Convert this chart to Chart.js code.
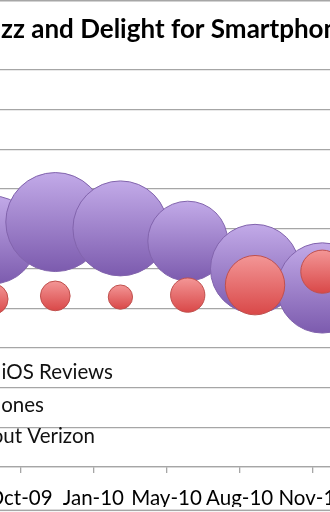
<!DOCTYPE html>
<html><head><meta charset="utf-8">
<script src="https://cdn.jsdelivr.net/npm/chart.js@4"></script>
<style>
html,body{margin:0;padding:0;background:#fff;overflow:hidden;width:330px;height:512px;}
#wrap{position:absolute;left:-116px;top:0;width:560px;height:512px;}
</style></head><body>
<div id="wrap"><canvas id="c" width="560" height="512"></canvas></div>
<script>
// ---- data ----
const chartTitle = 'Buzz and Delight for Smartphones';
const dates = [40062, 40148, 40237, 40329, 40421, 40513];          // Excel date serials
const buzzValues = [5.72, 6.17, 6.01, 5.69, 4.99, 4.51];
const buzzSizes = [79, 100, 92, 65, 81, 83];
const delightValues = [4.23, 4.31, 4.28, 4.33, 4.58, 4.92];
const delightSizes = [10, 9, 6, 12, 36, 19];
const xTickValues = [40000, 40100, 40200, 40300, 40400, 40500, 40600];
const xTickLabels = ['Jul-09', 'Oct-09', 'Jan-10', 'May-10', 'Aug-10', 'Nov-10', 'Feb-11'];
const noteTexts = ['iOS Reviews', 'hones', 'out Verizon'];

// ---- styling / layout ----
const OFFSET = 116;               // canvas is shifted left by this much
const MAX_R = 49.5;               // radius of the largest bubble
const FONT = 'Lato, "Open Sans", sans-serif';
const maxSize = Math.max(...buzzSizes, ...delightSizes);
const toR = s => MAX_R * Math.sqrt(s / maxSize);

const buzzData = dates.map((d, i) => ({x: d, y: buzzValues[i], r: toR(buzzSizes[i])}));
const delightData = dates.map((d, i) => ({x: d, y: delightValues[i], r: toR(delightSizes[i])}));

function gradient(top, bottom) {
  return (ctx) => {
    const chart = ctx.chart;
    if (!chart.chartArea || ctx.type !== 'data' || !ctx.raw) return bottom;
    const y = chart.scales.y.getPixelForValue(ctx.raw.y);
    const r = ctx.raw.r;
    const g = chart.ctx.createLinearGradient(0, y - r, 0, y + r);
    g.addColorStop(0, top);
    g.addColorStop(1, bottom);
    return g;
  };
}

const frame = {
  id: 'frame',
  beforeDraw(chart) {
    const c = chart.ctx;
    c.save();
    c.fillStyle = '#fff';
    c.fillRect(0, 0, chart.width, chart.height);
    c.restore();
  },
  afterDraw(chart) {
    const c = chart.ctx;
    c.save();
    c.strokeStyle = '#a6a6a6';
    c.lineWidth = 1.5;
    c.strokeRect(1, 0.75, chart.width - 2, 509.6);
    c.fillStyle = '#111';
    c.font = '20.5px ' + FONT;
    c.textAlign = 'right';
    c.textBaseline = 'alphabetic';
    const ends = [113, 44, 95];
    const bases = [379, 411.7, 443.3];
    noteTexts.forEach((t, i) => c.fillText(t, ends[i] + OFFSET, bases[i]));
    c.restore();
  }
};

new Chart(document.getElementById('c'), {
  type: 'bubble',
  data: {
    datasets: [
      {label: 'Delight', data: delightData, order: 1,
       backgroundColor: gradient('#f39696', '#d94848'), borderColor: '#c0504d', borderWidth: 1},
      {label: 'Buzz', data: buzzData, order: 2,
       backgroundColor: gradient('#c2aae8', '#7c5bae'), borderColor: '#8264ad', borderWidth: 1}
    ]
  },
  options: {
    responsive: false,
    animation: false,
    events: [],
    layout: {autoPadding: false, padding: {left: 63, right: 58, top: 0, bottom: 5}},
    plugins: {
      legend: {display: false},
      tooltip: {enabled: false},
      title: {display: true, text: chartTitle, color: '#000',
              font: {family: FONT, size: 26, weight: 'bold', lineHeight: 1.2},
              padding: {top: 14.4, bottom: 24.4}}
    },
    scales: {
      x: {
        type: 'linear', min: xTickValues[0], max: xTickValues[xTickValues.length - 1],
        afterBuildTicks: axis => { axis.ticks = xTickValues.map(v => ({value: v})); },
        afterFit: axis => { axis.height = 40; },
        ticks: {callback: (v, i) => xTickLabels[i], color: '#000', autoSkip: false, maxRotation: 0,
                font: {family: FONT, size: 20.5}, padding: 13},
        grid: {drawOnChartArea: false, drawTicks: true, tickLength: 6, color: '#a6a6a6', lineWidth: 1.3},
        border: {display: true, color: '#a6a6a6', width: 1.3}
      },
      y: {
        min: 0, max: 10,
        ticks: {display: false, stepSize: 1},
        grid: {drawTicks: false, color: '#a6a6a6', lineWidth: 1.3},
        border: {display: true, color: '#a6a6a6', width: 1.3}
      }
    }
  },
  plugins: [frame]
});
</script>
</body></html>
